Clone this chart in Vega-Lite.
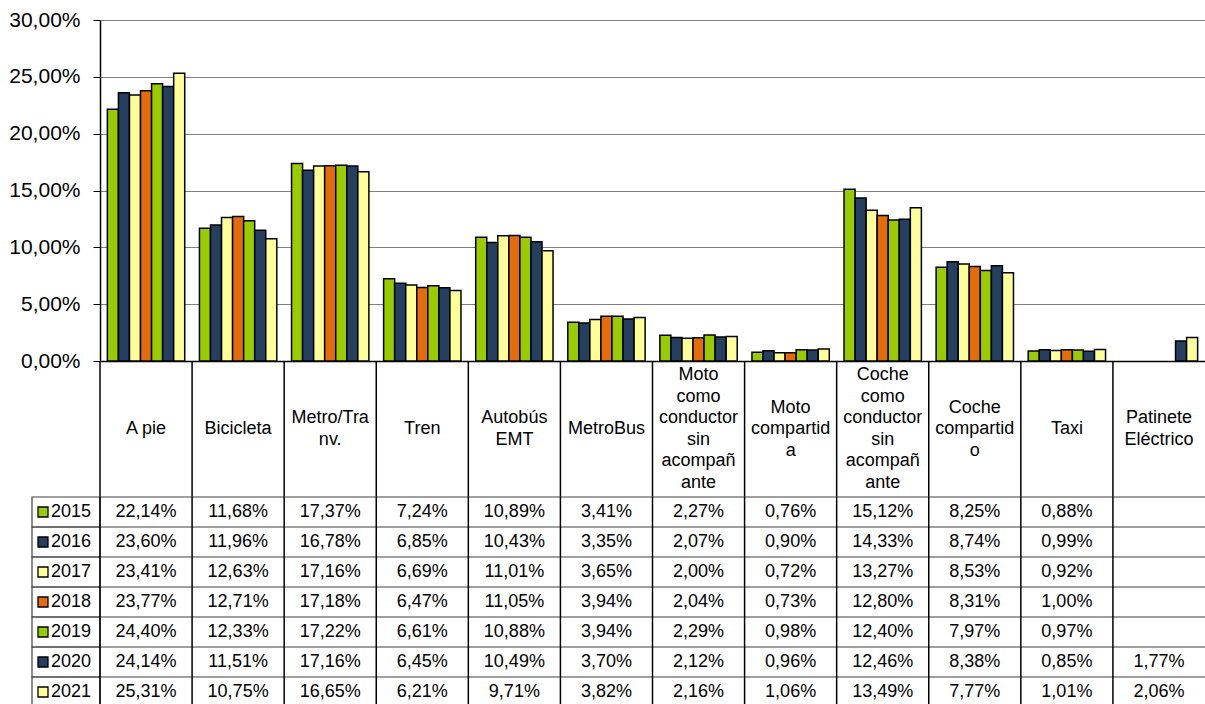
{
  "$schema": "https://vega.github.io/schema/vega-lite/v6.json",
  "padding": {"left": 8, "top": 9, "right": 0, "bottom": 0},
  "background": "white",
  "config": {
    "font": "Liberation Sans",
    "view": {"stroke": null},
    "locale": {"number": {"decimal": ",", "thousands": ".", "grouping": [3], "currency": ["", " €"]}}
  },
  "datasets": {
    "shares": [
      {"cat": "A pie", "year": "2015", "value": 0.2214},
      {"cat": "A pie", "year": "2016", "value": 0.2360},
      {"cat": "A pie", "year": "2017", "value": 0.2341},
      {"cat": "A pie", "year": "2018", "value": 0.2377},
      {"cat": "A pie", "year": "2019", "value": 0.2440},
      {"cat": "A pie", "year": "2020", "value": 0.2414},
      {"cat": "A pie", "year": "2021", "value": 0.2531},
      {"cat": "Bicicleta", "year": "2015", "value": 0.1168},
      {"cat": "Bicicleta", "year": "2016", "value": 0.1196},
      {"cat": "Bicicleta", "year": "2017", "value": 0.1263},
      {"cat": "Bicicleta", "year": "2018", "value": 0.1271},
      {"cat": "Bicicleta", "year": "2019", "value": 0.1233},
      {"cat": "Bicicleta", "year": "2020", "value": 0.1151},
      {"cat": "Bicicleta", "year": "2021", "value": 0.1075},
      {"cat": "Metro/Tranv.", "year": "2015", "value": 0.1737},
      {"cat": "Metro/Tranv.", "year": "2016", "value": 0.1678},
      {"cat": "Metro/Tranv.", "year": "2017", "value": 0.1716},
      {"cat": "Metro/Tranv.", "year": "2018", "value": 0.1718},
      {"cat": "Metro/Tranv.", "year": "2019", "value": 0.1722},
      {"cat": "Metro/Tranv.", "year": "2020", "value": 0.1716},
      {"cat": "Metro/Tranv.", "year": "2021", "value": 0.1665},
      {"cat": "Tren", "year": "2015", "value": 0.0724},
      {"cat": "Tren", "year": "2016", "value": 0.0685},
      {"cat": "Tren", "year": "2017", "value": 0.0669},
      {"cat": "Tren", "year": "2018", "value": 0.0647},
      {"cat": "Tren", "year": "2019", "value": 0.0661},
      {"cat": "Tren", "year": "2020", "value": 0.0645},
      {"cat": "Tren", "year": "2021", "value": 0.0621},
      {"cat": "Autobús EMT", "year": "2015", "value": 0.1089},
      {"cat": "Autobús EMT", "year": "2016", "value": 0.1043},
      {"cat": "Autobús EMT", "year": "2017", "value": 0.1101},
      {"cat": "Autobús EMT", "year": "2018", "value": 0.1105},
      {"cat": "Autobús EMT", "year": "2019", "value": 0.1088},
      {"cat": "Autobús EMT", "year": "2020", "value": 0.1049},
      {"cat": "Autobús EMT", "year": "2021", "value": 0.0971},
      {"cat": "MetroBus", "year": "2015", "value": 0.0341},
      {"cat": "MetroBus", "year": "2016", "value": 0.0335},
      {"cat": "MetroBus", "year": "2017", "value": 0.0365},
      {"cat": "MetroBus", "year": "2018", "value": 0.0394},
      {"cat": "MetroBus", "year": "2019", "value": 0.0394},
      {"cat": "MetroBus", "year": "2020", "value": 0.0370},
      {"cat": "MetroBus", "year": "2021", "value": 0.0382},
      {"cat": "Moto como conductor sin acompañante", "year": "2015", "value": 0.0227},
      {"cat": "Moto como conductor sin acompañante", "year": "2016", "value": 0.0207},
      {"cat": "Moto como conductor sin acompañante", "year": "2017", "value": 0.0200},
      {"cat": "Moto como conductor sin acompañante", "year": "2018", "value": 0.0204},
      {"cat": "Moto como conductor sin acompañante", "year": "2019", "value": 0.0229},
      {"cat": "Moto como conductor sin acompañante", "year": "2020", "value": 0.0212},
      {"cat": "Moto como conductor sin acompañante", "year": "2021", "value": 0.0216},
      {"cat": "Moto compartida", "year": "2015", "value": 0.0076},
      {"cat": "Moto compartida", "year": "2016", "value": 0.0090},
      {"cat": "Moto compartida", "year": "2017", "value": 0.0072},
      {"cat": "Moto compartida", "year": "2018", "value": 0.0073},
      {"cat": "Moto compartida", "year": "2019", "value": 0.0098},
      {"cat": "Moto compartida", "year": "2020", "value": 0.0096},
      {"cat": "Moto compartida", "year": "2021", "value": 0.0106},
      {"cat": "Coche como conductor sin acompañante", "year": "2015", "value": 0.1512},
      {"cat": "Coche como conductor sin acompañante", "year": "2016", "value": 0.1433},
      {"cat": "Coche como conductor sin acompañante", "year": "2017", "value": 0.1327},
      {"cat": "Coche como conductor sin acompañante", "year": "2018", "value": 0.1280},
      {"cat": "Coche como conductor sin acompañante", "year": "2019", "value": 0.1240},
      {"cat": "Coche como conductor sin acompañante", "year": "2020", "value": 0.1246},
      {"cat": "Coche como conductor sin acompañante", "year": "2021", "value": 0.1349},
      {"cat": "Coche compartido", "year": "2015", "value": 0.0825},
      {"cat": "Coche compartido", "year": "2016", "value": 0.0874},
      {"cat": "Coche compartido", "year": "2017", "value": 0.0853},
      {"cat": "Coche compartido", "year": "2018", "value": 0.0831},
      {"cat": "Coche compartido", "year": "2019", "value": 0.0797},
      {"cat": "Coche compartido", "year": "2020", "value": 0.0838},
      {"cat": "Coche compartido", "year": "2021", "value": 0.0777},
      {"cat": "Taxi", "year": "2015", "value": 0.0088},
      {"cat": "Taxi", "year": "2016", "value": 0.0099},
      {"cat": "Taxi", "year": "2017", "value": 0.0092},
      {"cat": "Taxi", "year": "2018", "value": 0.0100},
      {"cat": "Taxi", "year": "2019", "value": 0.0097},
      {"cat": "Taxi", "year": "2020", "value": 0.0085},
      {"cat": "Taxi", "year": "2021", "value": 0.0101},
      {"cat": "Patinete Eléctrico", "year": "2020", "value": 0.0177},
      {"cat": "Patinete Eléctrico", "year": "2021", "value": 0.0206}
    ],
    "cats": [
      {"cat": "A pie", "label": "A pie"},
      {"cat": "Bicicleta", "label": "Bicicleta"},
      {"cat": "Metro/Tranv.", "label": "Metro/Tra\nnv."},
      {"cat": "Tren", "label": "Tren"},
      {"cat": "Autobús EMT", "label": "Autobús\nEMT"},
      {"cat": "MetroBus", "label": "MetroBus"},
      {"cat": "Moto como conductor sin acompañante", "label": "Moto\ncomo\nconductor\nsin\nacompañ\nante"},
      {"cat": "Moto compartida", "label": "Moto\ncompartid\na"},
      {"cat": "Coche como conductor sin acompañante", "label": "Coche\ncomo\nconductor\nsin\nacompañ\nante"},
      {"cat": "Coche compartido", "label": "Coche\ncompartid\no"},
      {"cat": "Taxi", "label": "Taxi"},
      {"cat": "Patinete Eléctrico", "label": "Patinete\nEléctrico"}
    ],
    "years": [
      {"year": "2015"}, {"year": "2016"}, {"year": "2017"}, {"year": "2018"},
      {"year": "2019"}, {"year": "2020"}, {"year": "2021"}
    ]
  },
  "columns": 2,
  "spacing": 0,
  "bounds": "flush",
  "align": "each",
  "concat": [
    {
      "width": 68, "height": 341,
      "data": {"values": [{}]},
      "mark": {"type": "text"},
      "encoding": {"text": {"value": ""}}
    },
    {
      "width": 1105, "height": 341,
      "data": {"name": "shares"},
      "mark": {"type": "bar", "stroke": "#000", "strokeWidth": 1.5},
      "encoding": {
        "x": {
          "field": "cat", "type": "nominal", "sort": null,
          "scale": {"domain": ["A pie", "Bicicleta", "Metro/Tranv.", "Tren", "Autobús EMT", "MetroBus", "Moto como conductor sin acompañante", "Moto compartida", "Coche como conductor sin acompañante", "Coche compartido", "Taxi", "Patinete Eléctrico"], "paddingInner": 0.16, "paddingOuter": 0.08},
          "axis": {"labels": false, "ticks": false, "title": null, "domainColor": "#000", "domainWidth": 1.5}
        },
        "xOffset": {"field": "year", "type": "nominal", "scale": {"domain": ["2015", "2016", "2017", "2018", "2019", "2020", "2021"]}},
        "y": {
          "field": "value", "type": "quantitative",
          "scale": {"domain": [0, 0.3], "nice": false},
          "axis": {"values": [0, 0.05, 0.1, 0.15, 0.2, 0.25, 0.3], "format": ".2%", "title": null, "grid": true, "gridColor": "#808080", "gridWidth": 1, "domainColor": "#000", "domainWidth": 1.5, "tickColor": "#000", "tickSize": 7, "labelPadding": 13, "labelFontSize": 21, "labelColor": "#000"}
        },
        "color": {
          "field": "year", "type": "nominal",
          "scale": {"domain": ["2015", "2016", "2017", "2018", "2019", "2020", "2021"], "range": ["#99CC00", "#243F60", "#FFFF99", "#E46C0A", "#99CC00", "#243F60", "#FFFF99"]},
          "legend": null
        }
      }
    },
    {
      "width": 68, "height": 136,
      "data": {"values": [{}]},
      "mark": {"type": "text"},
      "encoding": {"text": {"value": ""}}
    },
    {
      "width": 1105, "height": 136,
      "data": {"name": "cats"},
      "encoding": {
        "x": {"field": "cat", "type": "nominal", "sort": null,
          "scale": {"type": "band", "domain": ["A pie", "Bicicleta", "Metro/Tranv.", "Tren", "Autobús EMT", "MetroBus", "Moto como conductor sin acompañante", "Moto compartida", "Coche como conductor sin acompañante", "Coche compartido", "Taxi", "Patinete Eléctrico"], "paddingInner": 0, "paddingOuter": 0},
          "axis": null}
      },
      "layer": [
        {
          "mark": {"type": "rule", "color": "#000", "strokeWidth": 1.5},
          "encoding": {
            "x": {"field": "cat", "type": "nominal", "bandPosition": 0, "sort": null,
              "scale": {"type": "band", "domain": ["A pie", "Bicicleta", "Metro/Tranv.", "Tren", "Autobús EMT", "MetroBus", "Moto como conductor sin acompañante", "Moto compartida", "Coche como conductor sin acompañante", "Coche compartido", "Taxi", "Patinete Eléctrico"], "paddingInner": 0, "paddingOuter": 0},
              "axis": null}
          }
        },
        {
          "transform": [{"filter": {"field": "cat", "oneOf": ["A pie", "Bicicleta", "Tren", "MetroBus", "Taxi"]}}],
          "mark": {"type": "text", "fontSize": 18, "lineBreak": "\n", "lineHeight": 21.5, "baseline": "middle", "align": "center", "color": "#000"},
          "encoding": {"text": {"field": "label", "type": "nominal"}}
        },
        {
          "transform": [{"filter": {"field": "cat", "oneOf": ["Metro/Tranv.", "Autobús EMT", "Patinete Eléctrico"]}}],
          "mark": {"type": "text", "fontSize": 18, "lineBreak": "\n", "lineHeight": 21.5, "baseline": "middle", "align": "center", "color": "#000", "dy": -10.75},
          "encoding": {"text": {"field": "label", "type": "nominal"}}
        },
        {
          "transform": [{"filter": {"field": "cat", "oneOf": ["Moto compartida", "Coche compartido"]}}],
          "mark": {"type": "text", "fontSize": 18, "lineBreak": "\n", "lineHeight": 21.5, "baseline": "middle", "align": "center", "color": "#000", "dy": -21.5},
          "encoding": {"text": {"field": "label", "type": "nominal"}}
        },
        {
          "transform": [{"filter": {"field": "cat", "oneOf": ["Moto como conductor sin acompañante", "Coche como conductor sin acompañante"]}}],
          "mark": {"type": "text", "fontSize": 18, "lineBreak": "\n", "lineHeight": 21.5, "baseline": "middle", "align": "center", "color": "#000", "dy": -53.75},
          "encoding": {"text": {"field": "label", "type": "nominal"}}
        }
      ]
    },
    {
      "width": 68, "height": 210,
      "data": {"name": "years"},
      "layer": [
        {
          "mark": {"type": "rect", "fill": "transparent", "stroke": "#404040", "strokeWidth": 1.2},
          "encoding": {
            "y": {"field": "year", "type": "nominal", "scale": {"type": "band", "domain": ["2015", "2016", "2017", "2018", "2019", "2020", "2021"], "paddingInner": 0, "paddingOuter": 0}, "axis": null}
          }
        },
        {
          "mark": {"type": "point", "shape": "square", "filled": true, "size": 100, "stroke": "#000", "strokeWidth": 1.3, "opacity": 1, "xOffset": -23},
          "encoding": {
            "y": {"field": "year", "type": "nominal", "scale": {"type": "band", "domain": ["2015", "2016", "2017", "2018", "2019", "2020", "2021"], "paddingInner": 0, "paddingOuter": 0}, "axis": null},
            "color": {
              "field": "year", "type": "nominal",
              "scale": {"domain": ["2015", "2016", "2017", "2018", "2019", "2020", "2021"], "range": ["#99CC00", "#243F60", "#FFFF99", "#E46C0A", "#99CC00", "#243F60", "#FFFF99"]},
              "legend": null
            }
          }
        },
        {
          "mark": {"type": "text", "fontSize": 18, "dx": 5, "align": "center", "baseline": "middle", "color": "#000"},
          "encoding": {
            "y": {"field": "year", "type": "nominal", "scale": {"type": "band", "domain": ["2015", "2016", "2017", "2018", "2019", "2020", "2021"], "paddingInner": 0, "paddingOuter": 0}, "axis": null},
            "text": {"field": "year", "type": "nominal"}
          }
        }
      ]
    },
    {
      "width": 1105, "height": 210,
      "layer": [
        {
          "data": {"name": "years"},
          "mark": {"type": "rule", "color": "#404040", "strokeWidth": 1.2},
          "encoding": {
            "y": {"field": "year", "type": "nominal", "bandPosition": 0, "scale": {"type": "band", "domain": ["2015", "2016", "2017", "2018", "2019", "2020", "2021"], "paddingInner": 0, "paddingOuter": 0}, "axis": null}
          }
        },
        {
          "data": {"name": "cats"},
          "mark": {"type": "rule", "color": "#000", "strokeWidth": 1.5},
          "encoding": {
            "x": {"field": "cat", "type": "nominal", "bandPosition": 0, "sort": null,
              "scale": {"type": "band", "domain": ["A pie", "Bicicleta", "Metro/Tranv.", "Tren", "Autobús EMT", "MetroBus", "Moto como conductor sin acompañante", "Moto compartida", "Coche como conductor sin acompañante", "Coche compartido", "Taxi", "Patinete Eléctrico"], "paddingInner": 0, "paddingOuter": 0},
              "axis": null}
          }
        },
        {
          "data": {"name": "shares"},
          "mark": {"type": "text", "fontSize": 18, "baseline": "middle", "align": "center", "color": "#000"},
          "encoding": {
            "x": {"field": "cat", "type": "nominal", "sort": null,
              "scale": {"type": "band", "domain": ["A pie", "Bicicleta", "Metro/Tranv.", "Tren", "Autobús EMT", "MetroBus", "Moto como conductor sin acompañante", "Moto compartida", "Coche como conductor sin acompañante", "Coche compartido", "Taxi", "Patinete Eléctrico"], "paddingInner": 0, "paddingOuter": 0},
              "axis": null},
            "y": {"field": "year", "type": "nominal", "scale": {"type": "band", "domain": ["2015", "2016", "2017", "2018", "2019", "2020", "2021"], "paddingInner": 0, "paddingOuter": 0}, "axis": null},
            "text": {"field": "value", "type": "quantitative", "format": ".2%"}
          }
        }
      ]
    }
  ]
}
